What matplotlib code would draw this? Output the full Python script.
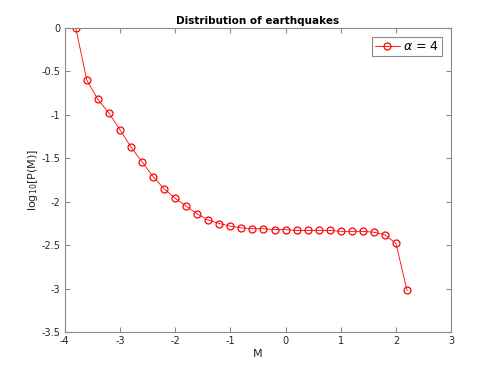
import numpy as np
import matplotlib
matplotlib.use("Agg")
import matplotlib.pyplot as plt

# magnitude bins and log10 P(M)
M = [-3.8, -3.6, -3.4, -3.2, -3.0, -2.8, -2.6, -2.4, -2.2, -2.0,
     -1.8, -1.6, -1.4, -1.2, -1.0, -0.8, -0.6, -0.4, -0.2, 0.0,
     0.2, 0.4, 0.6, 0.8, 1.0, 1.2, 1.4, 1.6, 1.8, 2.0, 2.2]
logP = [0.0, -0.60, -0.82, -0.98, -1.17, -1.37, -1.54, -1.71, -1.85, -1.96,
        -2.05, -2.14, -2.21, -2.25, -2.28, -2.30, -2.31, -2.31, -2.32, -2.32,
        -2.33, -2.33, -2.33, -2.33, -2.34, -2.34, -2.34, -2.35, -2.38, -2.48, -3.02]
xticks = [-4, -3, -2, -1, 0, 1, 2, 3]
yticks = [0, -0.5, -1, -1.5, -2, -2.5, -3, -3.5]

EDGE, TXT = "#8a8a8a", "#262626"
plt.rcParams.update({"font.family": "DejaVu Sans", "font.size": 7,
                     "axes.edgecolor": EDGE, "axes.linewidth": 0.8,
                     "xtick.color": EDGE, "ytick.color": EDGE,
                     "xtick.labelcolor": TXT, "ytick.labelcolor": TXT})

fig = plt.figure(figsize=(4.98, 3.74), dpi=100)
ax = fig.add_axes([0.13, 0.112, 0.776, 0.813])
ax.plot(M, logP, color="red", lw=0.6, marker="o", ms=5, mfc="none",
        mec="red", mew=0.9, label=r"$\alpha$ = 4")
ax.set_xlim(-4, 3); ax.set_ylim(-3.5, 0)
ax.set_xticks(xticks); ax.set_yticks(yticks)
ax.set_xticklabels([f"{t:g}" for t in xticks])
ax.set_yticklabels([f"{t:g}" for t in yticks])
ax.tick_params(direction="in", top=True, right=True, length=3.5, width=0.8, pad=3)
ax.set_title("Distribution of earthquakes", fontsize=7.5, fontweight="bold", pad=3)
ax.set_xlabel("M", fontsize=8, color=TXT, labelpad=2)
ax.set_ylabel(r"log$_{10}$[P(M)]", fontsize=8, color=TXT, labelpad=1)
leg = ax.legend(loc="upper right", fontsize=9, fancybox=False, framealpha=1,
                edgecolor=EDGE, handlelength=2.0, borderpad=0.25,
                handletextpad=0.3, borderaxespad=0.7)
leg.get_frame().set_linewidth(0.8)
fig.savefig("out.png", dpi=100, facecolor="white")
